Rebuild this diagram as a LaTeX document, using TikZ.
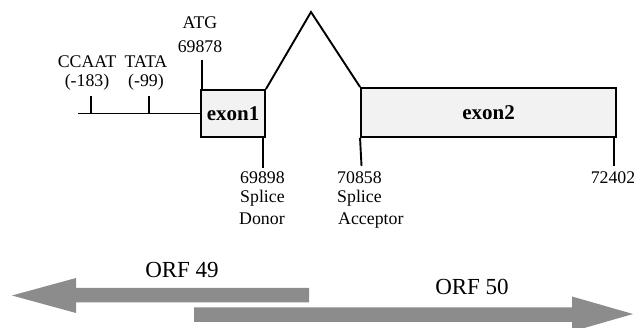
\documentclass[tikz,border=0pt]{standalone}
\usepackage{fontspec}
\setmainfont{Liberation Serif}
\begin{document}
\begin{tikzpicture}[x=1pt,y=-1pt,
  ln/.style={line width=1.9pt,line join=miter},
  lbl/.style={inner sep=0pt,anchor=base,font=\fontsize{17.8}{20}\selectfont},
  lblw/.style={inner sep=0pt,anchor=base west,font=\fontsize{17.8}{20}\selectfont},
  exonbox/.style={draw,line width=1.9pt,fill=black!5,inner sep=0pt,font=\fontsize{21}{24}\selectfont\bfseries},
  orfarrow/.style={fill=black!45,draw=none},
  orflbl/.style={inner sep=0pt,anchor=base,font=\fontsize{23}{26}\selectfont}]
\useasboundingbox (0,0) rectangle (634,328);
\clip (0,0) rectangle (634,328);
% exons
\node[exonbox,minimum width=64pt,minimum height=47pt] (exon1) at (233,113.5) {exon1};
\node[exonbox,minimum width=255pt,minimum height=49pt] (exon2) at (488.5,112.5) {exon2};
% promoter line
\coordinate (lstart) at (78,113.5);
\coordinate (ccaatb) at (91,113.5);
\coordinate (ccaatt) at (91,96);
\coordinate (tatab) at (149,113.5);
\coordinate (tatat) at (149,96);
\draw[ln] (lstart) -- (exon1.west);
\draw[ln] (ccaatb) -- (ccaatt);
\draw[ln] (tatab) -- (tatat);
\node[lbl] (ccaat) at (87,68) {CCAAT};
\node[lbl] (ccaatn) at (87,87) {(-183)};
\node[lbl] (tata) at (146,68) {TATA};
\node[lbl] (tatan) at (146,87) {(-99)};
% ATG
\coordinate (atgtop) at (202,60);
\draw[ln] (atgtop) -- (atgtop |- exon1.north);
\node[lbl] (atg) at (200,29) {ATG};
\node[lbl] (atgn) at (200,53) {69878};
% intron caret
\coordinate (apex) at (311,12);
\draw[ln] (exon1.north east) -- (apex) -- (exon2.north west);
% splice donor
\coordinate (donorend) at (263,168);
\draw[ln] (donorend |- exon1.south) -- (donorend);
\node[lblw] (dnum) at (240,184) {69898};
\node[lblw] (dspl) at (240,203) {Splice};
\node[lblw] (ddon) at (239,225) {Donor};
% splice acceptor
\coordinate (accend) at (361.5,166);
\draw[ln] (exon2.south west) -- (accend);
\node[lblw] (anum) at (337,184) {70858};
\node[lblw] (aspl) at (337,203) {Splice};
\node[lblw] (aacc) at (338,225) {Acceptor};
% end
\coordinate (endtop) at (614,137);
\coordinate (endbot) at (614,166);
\draw[ln] (endtop) -- (endbot);
\node[lbl] (enum) at (613,184) {72402};
% ORF arrows
\fill[orfarrow] (12,295.5) -- (76,278) -- (76,288) -- (309,288) -- (309,302.5) -- (76,302.5) -- (76,313) -- cycle;
\fill[orfarrow] (633,314) -- (572,296.5) -- (572,307.5) -- (194,307.5) -- (194,322) -- (572,322) -- (572,331.5) -- cycle;
\node[orflbl] (orf49) at (182,278) {ORF 49};
\node[orflbl] (orf50) at (472,295) {ORF 50};
\end{tikzpicture}
\end{document}
